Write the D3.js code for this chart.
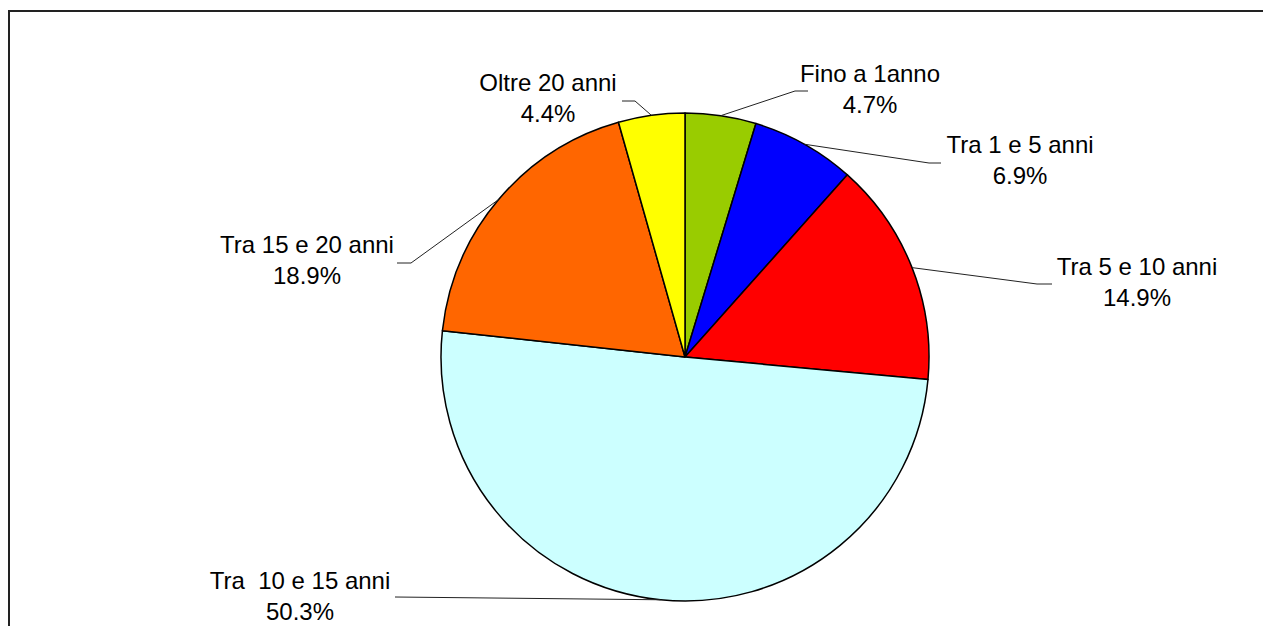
<!DOCTYPE html>
<html>
<head>
<meta charset="utf-8">
<script src="https://cdn.jsdelivr.net/npm/d3@7"></script>
<style>
  html, body { margin: 0; padding: 0; background: #fff; }
  svg { display: block; }
  text { font-family: "Liberation Sans", Arial, sans-serif; white-space: pre; }
</style>
</head>
<body>
<svg id="chart" width="1263" height="626"></svg>
<script>
// ---- data ----
const categories = ["Fino a 1anno", "Tra 1 e 5 anni", "Tra 5 e 10 anni", "Tra  10 e 15 anni", "Tra 15 e 20 anni", "Oltre 20 anni"];
const values = [4.7, 6.9, 14.9, 50.3, 18.9, 4.4];
const valueLabels = ["4.7%", "6.9%", "14.9%", "50.3%", "18.9%", "4.4%"];
const colors = ["#99CC00", "#0000FF", "#FF0000", "#CCFFFF", "#FF6600", "#FFFF00"];

// ---- layout (label placement) ----
const labelLayout = [
  { x: 870,  y: 82,  elbow: [795, 91],  end: [808, 91] },
  { x: 1020, y: 153, elbow: [929, 163], end: [941, 163] },
  { x: 1137, y: 275, elbow: [1037, 284], end: [1052, 284] },
  { x: 300,  y: 589, elbow: [395, 597], end: [395, 597] },
  { x: 307,  y: 253, elbow: [411, 263], end: [397, 263] },
  { x: 548,  y: 91,  elbow: [635, 101], end: [622, 101] }
];

const cx = 685, cy = 357, R = 244;
const svg = d3.select("#chart");

// border frame
svg.append("rect")
  .attr("x", 9).attr("y", 11)
  .attr("width", 1400).attr("height", 800)
  .attr("fill", "none").attr("stroke", "#222").attr("stroke-width", 2);

const data = categories.map((c, i) => ({ name: c, value: values[i], label: valueLabels[i], color: colors[i], layout: labelLayout[i] }));

const pie = d3.pie().value(d => d.value).sort(null);
const arcs = pie(data);
const arc = d3.arc().innerRadius(0).outerRadius(R);

const g = svg.append("g").attr("transform", `translate(${cx},${cy})`);

g.selectAll("path.slice")
  .data(arcs)
  .join("path")
  .attr("class", "slice")
  .attr("d", arc)
  .attr("fill", d => d.data.color)
  .attr("stroke", "#000")
  .attr("stroke-width", 1.5)
  .attr("stroke-linejoin", "round");

// leader lines
arcs.forEach(a => {
  const mid = (a.startAngle + a.endAngle) / 2;
  const px = cx + R * Math.sin(mid);
  const py = cy - R * Math.cos(mid);
  const L = a.data.layout;
  svg.append("polyline")
    .attr("points", [[px, py], L.elbow, L.end].map(p => p.join(",")).join(" "))
    .attr("fill", "none")
    .attr("stroke", "#222")
    .attr("stroke-width", 1);
});

// labels
arcs.forEach(a => {
  const L = a.data.layout;
  const t = svg.append("text")
    .attr("text-anchor", "middle")
    .attr("font-size", 24)
    .attr("fill", "#000");
  t.append("tspan").attr("x", L.x).attr("y", L.y).text(a.data.name);
  t.append("tspan").attr("x", L.x).attr("y", L.y + 31).text(a.data.label);
});
</script>
</body>
</html>
